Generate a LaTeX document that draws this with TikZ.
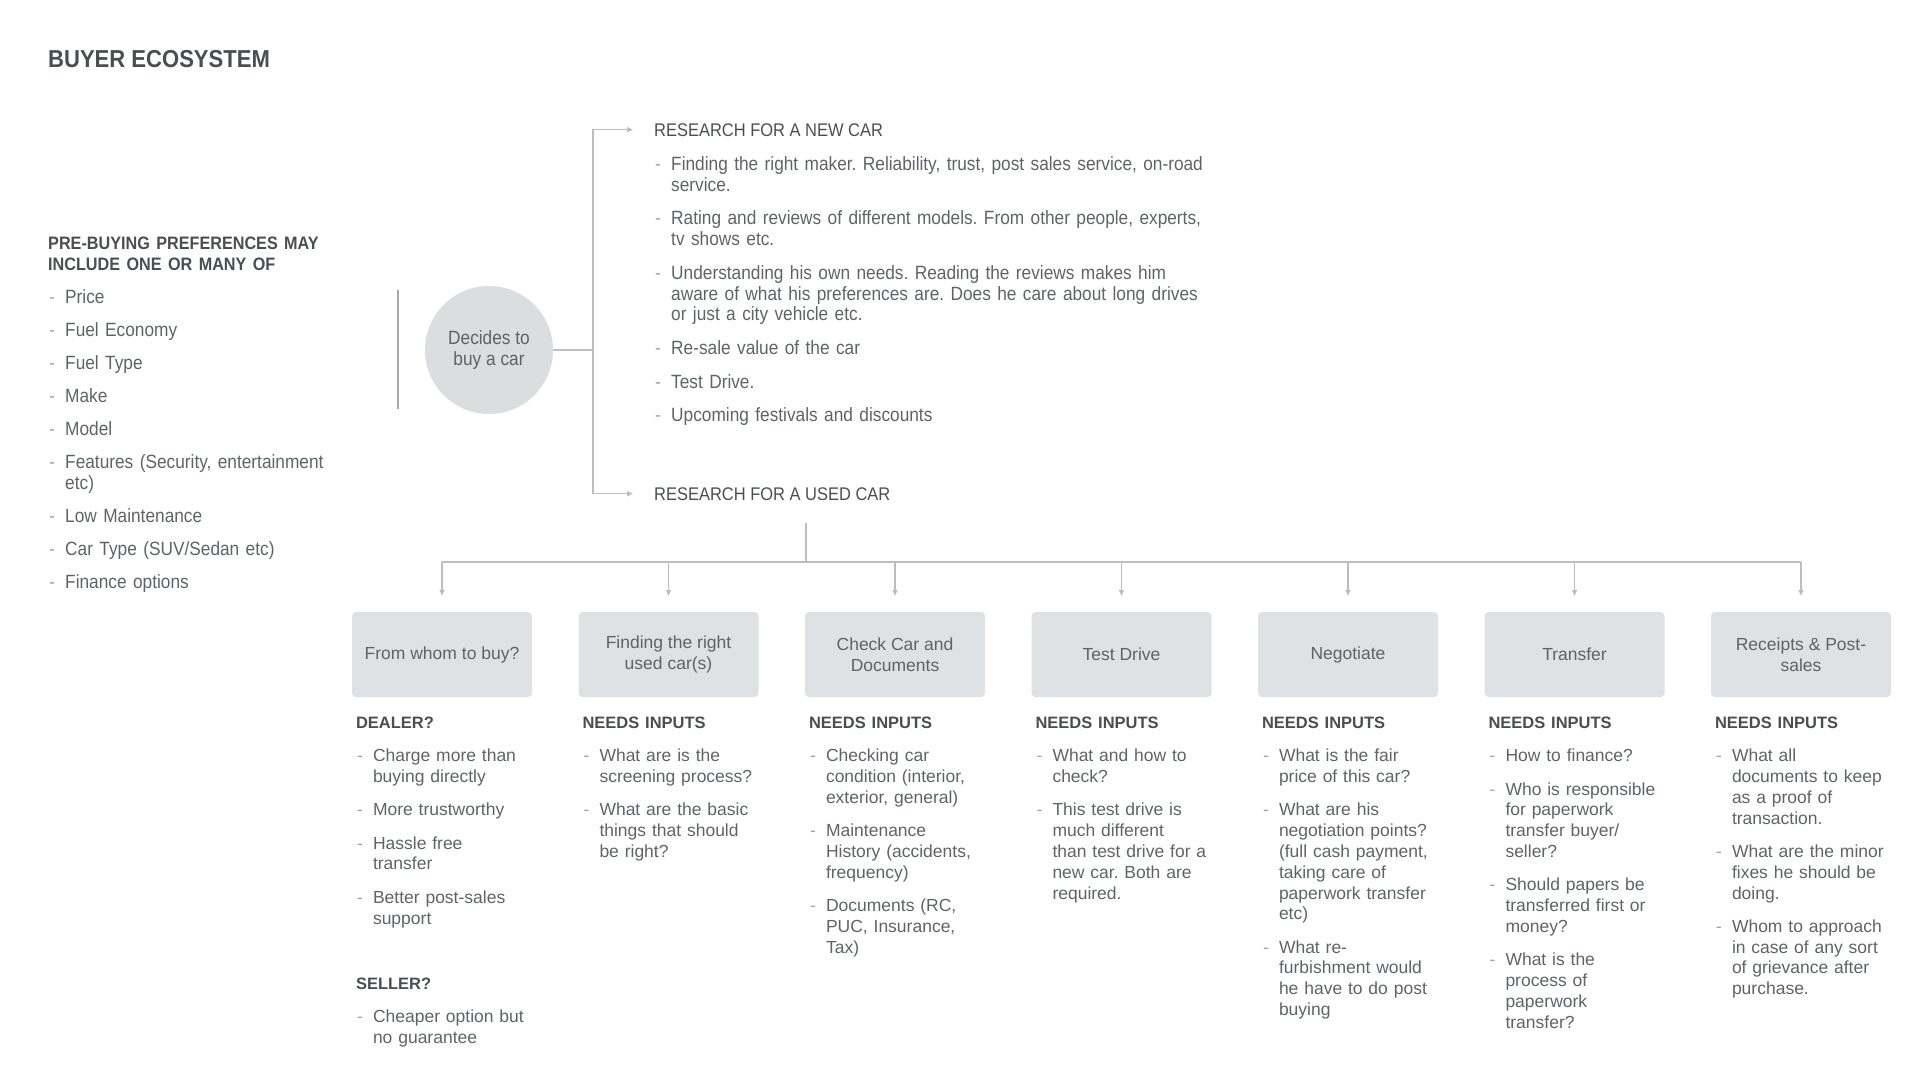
\documentclass[tikz,border=0pt]{standalone}
\usepackage{fontspec}
\setmainfont{Liberation Sans}
\newfontfamily\condfont{Liberation Sans}[FakeStretch=0.9]
\usepackage{xcolor}
\usetikzlibrary{positioning,arrows.meta}
\frenchspacing
\definecolor{txtgray}{HTML}{5F6368}
\definecolor{headgray}{HTML}{4A4D52}
\definecolor{linegray}{HTML}{BDBDBD}
\definecolor{dashgray}{HTML}{A3A3A3}
\definecolor{boxgray}{HTML}{E0E1E3}
\definecolor{circgray}{HTML}{DCDDDF}
\newcommand\sechead[2][16.5]{\noindent\rule{0pt}{15pt}{\fontsize{#1}{20.8}\selectfont\bfseries\color{headgray}#2}\par}
\newcommand\bul[1]{\hangindent=17pt\hangafter=1\noindent\rule{0pt}{15pt}\makebox[17pt][l]{\hspace{1pt}\textcolor{dashgray}{-}}#1\par}
\tikzset{
  conn/.style={draw=linegray, line width=1.5pt},
  tip/.style={-{Triangle[length=6pt,width=5pt]}},
  stage/.style={rectangle, rounded corners=4pt, fill=boxgray, minimum width=180pt,
    minimum height=85pt, inner sep=2pt, align=center, text=txtgray,
    font=\fontsize{17.5}{20.8}\selectfont},
  notes/.style={anchor=north west, inner sep=0pt, text width=215pt, align=left, text=txtgray,
    font=\fontsize{17.5}{20.8}\selectfont\setlength\parskip{12.5pt}},
  topnotes/.style={notes, text width=620pt,
    font=\condfont\fontsize{19.2}{20.8}\selectfont\setlength\parskip{12.9pt}},
  heading/.style={anchor=base west, inner sep=0pt, text=headgray,
    font=\condfont\fontsize{18.3}{20.8}\selectfont},
}
\begin{document}
\begin{tikzpicture}[x=1pt,y=-1pt]
\useasboundingbox (0,0) rectangle (1920,1080);
\node[heading, font=\condfont\bfseries\fontsize{24.5}{28}\selectfont] (title) at (48,67) {BUYER ECOSYSTEM};

% pre-buying preferences
\node[topnotes, text width=320pt, font=\condfont\fontsize{19.2}{20.8}\selectfont\setlength\parskip{12.3pt}] (prefs) at (48,234) {%
  \sechead[18]{PRE-BUYING PREFERENCES MAY\newline INCLUDE ONE OR MANY OF}
  \bul{Price}
  \bul{Fuel Economy}
  \bul{Fuel Type}
  \bul{Make}
  \bul{Model}
  \bul{Features (Security, entertainment\newline etc)}
  \bul{Low Maintenance}
  \bul{Car Type (SUV/Sedan etc)}
  \bul{Finance options}};
\draw[draw=linegray!90!black, line width=1.5pt] (398,290) -- (398,409);

\node[circle, fill=circgray, minimum size=128pt, inner sep=0pt, align=center, text=txtgray,
  font=\condfont\fontsize{19.2}{20.8}\selectfont] (dec) at (489,350) {Decides to\\buy a car};

% new car / used car
\node[heading] (newhd) at (654,136) {RESEARCH FOR A NEW CAR};
\node[topnotes] (newlist) at (654,155) {%
  \bul{Finding the right maker. Reliability, trust, post sales service, on-road\newline service.}
  \bul{Rating and reviews of different models. From other people, experts,\newline tv shows etc.}
  \bul{Understanding his own needs. Reading the reviews makes him\newline aware of what his preferences are. Does he care about long drives\newline or just a city vehicle etc.}
  \bul{Re-sale value of the car}
  \bul{Test Drive.}
  \bul{Upcoming festivals and discounts}};
\node[heading] (usedhd) at (654,500) {RESEARCH FOR A USED CAR};

\draw[conn,tip] (dec.east) -| ([xshift=-61pt]newhd.west) -- ([xshift=-21pt]newhd.west);
\draw[conn,tip] (dec.east) -| ([xshift=-61pt]usedhd.west) -- ([xshift=-21pt]usedhd.west);

% used car stages
\foreach \i/\lbl in {1/From whom to buy?, 2/{Finding the right\\used car(s)},
    3/{Check Car and\\Documents}, 4/Test Drive, 5/Negotiate, 6/Transfer,
    7/{Receipts \& Post-\\sales}}
  \node[stage] (b\i) at ({442+(\i-1)*226.5},654.5) {\lbl};

\draw[conn] (806,523) coordinate (stem) -- (806,562) coordinate (bus);
\draw[conn] (b1.north |- bus) -- (b7.north |- bus);
\foreach \i in {1,...,7}
  \draw[conn,tip] (b\i.north |- bus) -- ([yshift=16pt]b\i.north);

\node[notes, below right=16pt and 4pt of b1.south west] (n1) {%
  \sechead{DEALER?}
  \bul{Charge more than\newline buying directly}
  \bul{More trustworthy}
  \bul{Hassle free\newline transfer}
  \bul{Better post-sales\newline support}
  \vspace{32pt}
  \sechead{SELLER?}
  \bul{Cheaper option but\newline no guarantee}};
\node[notes, below right=16pt and 4pt of b2.south west] (n2) {%
  \sechead{NEEDS INPUTS}
  \bul{What are is the\newline screening process?}
  \bul{What are the basic\newline things that should\newline be right?}};
\node[notes, below right=16pt and 4pt of b3.south west] (n3) {%
  \sechead{NEEDS INPUTS}
  \bul{Checking car\newline condition (interior,\newline exterior, general)}
  \bul{Maintenance\newline History (accidents,\newline frequency)}
  \bul{Documents (RC,\newline PUC, Insurance,\newline Tax)}};
\node[notes, below right=16pt and 4pt of b4.south west] (n4) {%
  \sechead{NEEDS INPUTS}
  \bul{What and how to\newline check?}
  \bul{This test drive is\newline much different\newline than test drive for a\newline new car. Both are\newline required.}};
\node[notes, below right=16pt and 4pt of b5.south west] (n5) {%
  \sechead{NEEDS INPUTS}
  \bul{What is the fair\newline price of this car?}
  \bul{What are his\newline negotiation points?\newline (full cash payment,\newline taking care of\newline paperwork transfer\newline etc)}
  \bul{What re-\newline furbishment would\newline he have to do post\newline buying}};
\node[notes, below right=16pt and 4pt of b6.south west] (n6) {%
  \sechead{NEEDS INPUTS}
  \bul{How to finance?}
  \bul{Who is responsible\newline for paperwork\newline transfer buyer/\newline seller?}
  \bul{Should papers be\newline transferred first or\newline money?}
  \bul{What is the\newline process of\newline paperwork\newline transfer?}};
\node[notes, below right=16pt and 4pt of b7.south west] (n7) {%
  \sechead{NEEDS INPUTS}
  \bul{What all\newline documents to keep\newline as a proof of\newline transaction.}
  \bul{What are the minor\newline fixes he should be\newline doing.}
  \bul{Whom to approach\newline in case of any sort\newline of grievance after\newline purchase.}};
\end{tikzpicture}
\end{document}
